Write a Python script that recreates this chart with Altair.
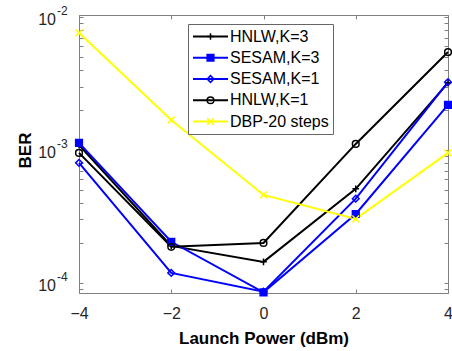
import altair as alt
import pandas as pd

# ---- data ----
power = [-4, -2, 0, 2, 4]
series_names = ["HNLW,K=3", "SESAM,K=3", "SESAM,K=1", "HNLW,K=1", "DBP-20 steps"]
hnlw_k3 = [1.09e-3, 1.90e-4, 1.44e-4, 5.10e-4, 3.20e-3]
sesam_k3 = [1.13e-3, 2.04e-4, 8.50e-5, 3.30e-4, 2.18e-3]
sesam_k1 = [8.00e-4, 1.19e-4, 8.60e-5, 4.30e-4, 3.24e-3]
hnlw_k1 = [9.50e-4, 1.87e-4, 2.00e-4, 1.11e-3, 5.45e-3]
dbp20 = [7.60e-3, 1.68e-3, 4.59e-4, 3.03e-4, 9.50e-4]
x_ticks = [-4, -2, 0, 2, 4]
y_tick_exponents = [-4, -3, -2]
y_tick_base = ["10", "10", "10"]
y_tick_exp_text = ["-4", "-3", "-2"]

series_colors = ["#000000", "#0000ff", "#0000ff", "#000000", "#ffff00"]
series_fills = ["transparent", "#0000ff", "transparent", "transparent", "transparent"]
series_shapes = ["M-1,0H1M0,-1V1", "square", "diamond", "circle", "M-1,-1L1,1M-1,1L1,-1"]

values = [hnlw_k3, sesam_k3, sesam_k1, hnlw_k1, dbp20]
rows = []
for name, vals in zip(series_names, values):
    for p, v in zip(power, vals):
        rows.append({"power": p, "ber": v, "series": name, "marker": "m:" + name})
df = pd.DataFrame(rows)
marker_names = ["m:" + n for n in series_names]

ylab = pd.DataFrame({
    "val": [10.0 ** e for e in y_tick_exponents],
    "base": y_tick_base,
    "exp": y_tick_exp_text,
})

y_lo, y_hi = 8.4e-5, 1.035e-2
minor_y = [k * 10.0 ** e for e in (-5, -4, -3, -2) for k in range(1, 10)
           if y_lo <= k * 10.0 ** e <= y_hi * 1.0001]

FONT = "Liberation Sans"
xscale = alt.Scale(domain=[-4, 4], nice=False, zero=False)
yscale = alt.Scale(type="log", domain=[y_lo, y_hi], nice=False)

tick_axis = dict(labels=False, domain=False, grid=False, title=None, ticks=True,
                 tickSize=4, tickColor="#808080", tickWidth=1, offset=-4)

# main lines with labelled x axis and y title
lines = alt.Chart(df).mark_line(strokeWidth=2).encode(
    x=alt.X("power:Q", scale=xscale, axis=alt.Axis(
        orient="bottom", values=x_ticks, format="d", ticks=False, domain=False, grid=False,
        labelFlush=False,
        labelFont=FONT, labelFontSize=16, labelColor="#262626", labelPadding=12,
        title="Launch Power (dBm)", titleFont=FONT, titleFontSize=17, titleFontWeight="bold",
        titleColor="#000000", titleBaseline="middle", titleY=45)),
    y=alt.Y("ber:Q", scale=yscale, axis=alt.Axis(
        orient="left", labels=False, ticks=False, domain=False, grid=False,
        title="BER", titleFont=FONT, titleFontSize=17, titleFontWeight="bold",
        titleColor="#000000", titleBaseline="middle", titleX=-54, titleY=135)),
    color=alt.Color("series:N", scale=alt.Scale(domain=series_names, range=series_colors),
                    sort=series_names,
                    legend=alt.Legend(orient="none", legendX=109, legendY=9, title=None,
                                      symbolType="stroke", symbolSize=1225, symbolStrokeWidth=2,
                                      padding=4, clipHeight=17, rowPadding=4.25, labelOffset=1,
                                      labelFont=FONT, labelFontSize=16, labelColor="#000000",
                                      fillColor="#ffffff", strokeColor="#666666",
                                      symbolOffset=0, zindex=1)),
    detail="series:N",
)

mleg = dict(orient="none", legendX=119.5, legendY=9, title=None, symbolSize=45,
            symbolStrokeWidth=1.5, padding=4, clipHeight=17, rowPadding=4.25,
            labelOffset=1, labelFont=FONT, labelFontSize=16, labelExpr="''",
            symbolOffset=0, zindex=2)

points = alt.Chart(df).mark_point(size=45, strokeWidth=1.5, opacity=1).encode(
    x=alt.X("power:Q", scale=xscale, axis=None),
    y=alt.Y("ber:Q", scale=yscale, axis=None),
    shape=alt.Shape("marker:N", scale=alt.Scale(domain=marker_names, range=series_shapes),
                    legend=alt.Legend(**mleg)),
    stroke=alt.Stroke("marker:N", scale=alt.Scale(domain=marker_names, range=series_colors),
                      legend=alt.Legend(**mleg)),
    fill=alt.Fill("marker:N", scale=alt.Scale(domain=marker_names, range=series_fills),
                  legend=alt.Legend(**mleg)),
)

ticks_tr = alt.Chart(df).mark_point(opacity=0, size=1).encode(
    x=alt.X("power:Q", scale=xscale, axis=alt.Axis(orient="top", values=x_ticks, **tick_axis)),
    y=alt.Y("ber:Q", scale=yscale, axis=alt.Axis(orient="right", values=minor_y, **tick_axis)),
)
ticks_bl = alt.Chart(df).mark_point(opacity=0, size=1).encode(
    x=alt.X("power:Q", scale=xscale, axis=alt.Axis(orient="bottom", values=x_ticks, **tick_axis)),
    y=alt.Y("ber:Q", scale=yscale, axis=alt.Axis(orient="left", values=minor_y, **tick_axis)),
)

ybase = alt.Chart(ylab).mark_text(align="right", baseline="middle", font=FONT,
                                  fontSize=16, color="#262626", dy=3).encode(
    x=alt.value(-23),
    y=alt.Y("val:Q", scale=yscale, axis=None),
    text="base:N",
)
yexp = alt.Chart(ylab).mark_text(align="left", baseline="middle", font=FONT,
                                 fontSize=12, color="#262626", dy=-6).encode(
    x=alt.value(-22),
    y=alt.Y("val:Q", scale=yscale, axis=None),
    text="exp:N",
)

chart = alt.layer(lines, points, ticks_tr, ticks_bl, ybase, yexp).resolve_axis(
    x="independent", y="independent"
).properties(
    width=369, height=278,
    padding={"left": 79, "top": 15, "right": 4, "bottom": 58},
    autosize=alt.AutoSizeParams(type="none"),
    background="#ffffff",
).configure_view(stroke="#808080", strokeWidth=1)

chart.save("out.html", embed_options={"renderer": "svg", "actions": False})
